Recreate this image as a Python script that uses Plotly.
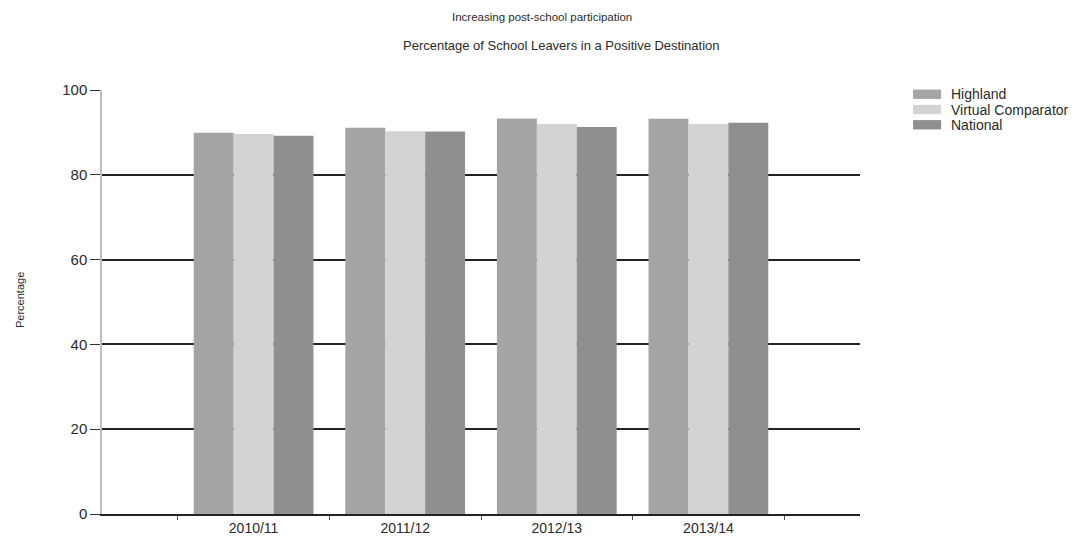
import plotly.graph_objects as go

# Data
years = ["2010/11", "2011/12", "2012/13", "2013/14"]
highland = [89.9, 91.1, 93.3, 93.2]
virtual_comparator = [89.6, 90.3, 92.0, 92.0]
national = [89.2, 90.2, 91.3, 92.3]

series_names = ["Highland", "Virtual Comparator", "National"]
series_values = [highland, virtual_comparator, national]
series_colors = ["#a4a4a4", "#d3d3d3", "#8f8f8f"]

y_ticks = [0, 20, 40, 60, 80, 100]

FONT = "Liberation Sans, Arial, sans-serif"
TEXT = "#2b2b2b"

fig = go.Figure()
for name, vals, col in zip(series_names, series_values, series_colors):
    fig.add_trace(go.Bar(
        name=name, x=years, y=vals,
        marker=dict(color=col, line=dict(width=0)),
        showlegend=False,
    ))

# Legend drawn as swatches + labels to the right of the plot
leg_y0 = 0.990
leg_step = 0.036
for i, (name, col) in enumerate(zip(series_names, series_colors)):
    yc = leg_y0 - i * leg_step
    fig.add_shape(type="rect", xref="paper", yref="paper",
                  x0=1.070, x1=1.107, y0=yc - 0.011, y1=yc + 0.011,
                  fillcolor=col, line=dict(width=0))
    fig.add_annotation(text=name, xref="paper", yref="paper",
                       x=1.117, y=yc, xanchor="left", yanchor="middle",
                       showarrow=False, font=dict(size=14, color=TEXT, family=FONT))

# Titles
fig.add_annotation(text="Increasing post-school participation",
                   xref="paper", yref="paper", x=0.58, y=1.172,
                   xanchor="center", yanchor="middle", showarrow=False,
                   font=dict(size=11.5, color=TEXT, family=FONT))
fig.add_annotation(text="Percentage of School Leavers in a Positive Destination",
                   xref="paper", yref="paper", x=0.606, y=1.106,
                   xanchor="center", yanchor="middle", showarrow=False,
                   font=dict(size=13, color=TEXT, family=FONT))
fig.add_annotation(text="Percentage", xref="paper", yref="paper",
                   x=-0.108, y=0.505, textangle=-90,
                   xanchor="center", yanchor="middle", showarrow=False,
                   font=dict(size=11, color=TEXT, family=FONT))

fig.update_layout(
    width=1086, height=547,
    margin=dict(l=102, r=226, t=90, b=33),
    paper_bgcolor="white", plot_bgcolor="white",
    barmode="group", bargap=0.21, bargroupgap=0,
    font=dict(family=FONT, color=TEXT),
    xaxis=dict(
        type="category", categoryorder="array", categoryarray=years,
        range=[-1, 4], tickson="boundaries",
        ticks="outside", ticklen=4, tickcolor="#555", tickwidth=1,
        showline=True, linecolor="#222", linewidth=1.5,
        showgrid=False, zeroline=False,
        tickfont=dict(size=14, color=TEXT, family=FONT),
    ),
    yaxis=dict(
        range=[0, 100], tickvals=y_ticks,
        ticks="outside", ticklen=10, tickcolor="#333", tickwidth=1,
        showline=True, linecolor="#bdbdbd", linewidth=1.5,
        showgrid=True, gridcolor="#222", gridwidth=1.5,
        zeroline=False, layer="below traces",
        tickfont=dict(size=15, color=TEXT, family=FONT),
    ),
)

fig.write_html("out.html")
